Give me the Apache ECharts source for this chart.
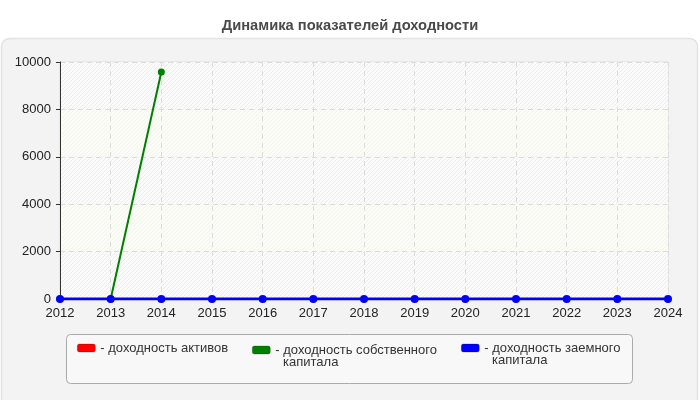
<!DOCTYPE html>
<html>
<head>
<meta charset="utf-8">
<script src="https://cdn.jsdelivr.net/npm/echarts@6/dist/echarts.min.js"></script>
<style>
  html, body { margin: 0; padding: 0; background: #fff; }
  #chart { width: 700px; height: 400px; }
</style>
</head>
<body>
<div id="chart"></div>
<script>
// данные графика
var years = ['2012', '2013', '2014', '2015', '2016', '2017', '2018', '2019', '2020', '2021', '2022', '2023', '2024'];
var assets = [0, 0, 0, 0, 0, 0, 0, 0, 0, 0, 0, 0, 0];
var equity = [0, 0, 9580, null, null, null, null, null, null, null, null, 0, null];
var borrowed = [0, 0, 0, 0, 0, 0, 0, 0, 0, 0, 0, 0, 0];
var yTicks = [0, 2000, 4000, 6000, 8000, 10000];

var names = ['доходность активов', 'доходность собственного капитала', 'доходность заемного капитала'];
var firstLines = ['- доходность активов', '- доходность собственного', '- доходность заемного'];
var secondLines = ['', 'капитала', 'капитала'];

// штриховка фона
function hatch(bg, line) {
    var c = document.createElement('canvas');
    c.width = 4; c.height = 4;
    var ctx = c.getContext('2d');
    ctx.fillStyle = bg;
    ctx.fillRect(0, 0, 4, 4);
    ctx.strokeStyle = line;
    ctx.lineWidth = 1;
    ctx.beginPath();
    ctx.moveTo(-1, 5); ctx.lineTo(5, -1);
    ctx.moveTo(3, 5); ctx.lineTo(5, 3);
    ctx.moveTo(-1, 1); ctx.lineTo(1, -1);
    ctx.stroke();
    return { image: c, repeat: 'repeat' };
}

var myChart = echarts.init(document.getElementById('chart'));

var font = 'Liberation Sans';
var legendX = [72, 247, 456];
var legendY = [336, 338, 336];
var legends = [];
for (var i = 0; i < 3; i++) {
    legends.push({
        data: [names[i]],
        left: legendX[i],
        top: legendY[i],
        icon: 'roundRect',
        itemWidth: 18,
        itemHeight: 8,
        selectedMode: false,
        itemStyle: { borderColor: 'rgba(0,0,0,0.35)', borderWidth: 0.6 },
        textStyle: { fontFamily: font, fontSize: 13, color: '#333', lineHeight: 14 },
        formatter: (function (t) { return function () { return t; }; })(firstLines[i])
    });
}

var option = {
    backgroundColor: '#fff',
    animation: false,
    title: {
        text: 'Динамика показателей доходности',
        left: 'center',
        top: 13,
        textStyle: { fontFamily: font, fontSize: 14.7, fontWeight: 'bold', color: '#4a4a4a' }
    },
    graphic: [
        {
            type: 'rect', z: -10,
            shape: { x: 1.5, y: 38.5, width: 696, height: 370, r: 8 },
            style: { fill: '#f3f3f3', stroke: '#e2e2e2', lineWidth: 1.5 }
        },
        {
            type: 'rect', z: -5,
            shape: { x: 66.5, y: 334.5, width: 566, height: 49, r: 4 },
            style: { fill: '#f8f8f8', stroke: '#aaaaaa', lineWidth: 1 }
        },
        {
            type: 'text', left: 283, top: 356,
            style: { text: secondLines[1], font: '13px "Liberation Sans"', fill: '#333' }
        },
        {
            type: 'text', left: 492, top: 354,
            style: { text: secondLines[2], font: '13px "Liberation Sans"', fill: '#333' }
        }
    ],
    legend: legends,
    grid: { left: 60, right: 32, top: 62, bottom: 101, show: true, borderColor: '#dddddd', borderWidth: 1 },
    xAxis: {
        type: 'category',
        data: years,
        boundaryGap: false,
        axisLine: { lineStyle: { color: '#333' } },
        axisTick: { show: true, length: 4, lineStyle: { color: '#333' } },
        axisLabel: { fontFamily: font, fontSize: 13, color: '#222', margin: 8 },
        splitLine: { show: true, lineStyle: { color: '#dcdcdc', type: [5, 4] } }
    },
    yAxis: {
        type: 'value',
        min: yTicks[0],
        max: yTicks[yTicks.length - 1],
        interval: yTicks[1] - yTicks[0],
        axisLine: { show: true, lineStyle: { color: '#333' } },
        axisTick: { show: true, length: 4, lineStyle: { color: '#333' } },
        axisLabel: { fontFamily: font, fontSize: 13, color: '#222', margin: 9, formatter: function (v) { return String(v); } },
        splitLine: { show: true, lineStyle: { color: '#dcdcdc', type: [5, 4] } },
        splitArea: { show: true, areaStyle: { color: [hatch('#fbfbfb', '#ededed'), hatch('#fcfcf6', '#f4f4ee')] } }
    },
    series: [
        {
            name: names[0], type: 'line', data: assets,
            color: '#ff0000',
            lineStyle: { width: 2, color: '#ff0000' },
            symbol: 'circle', symbolSize: 6
        },
        {
            name: names[1], type: 'line', data: equity,
            color: '#008000',
            lineStyle: { width: 2, color: '#008000' },
            symbol: 'circle', symbolSize: 7
        },
        {
            name: names[2], type: 'line', data: borrowed,
            color: '#0000ff',
            lineStyle: { width: 3, color: '#0000ff' },
            symbol: 'circle', symbolSize: 8
        }
    ]
};

myChart.setOption(option);
</script>
</body>
</html>
